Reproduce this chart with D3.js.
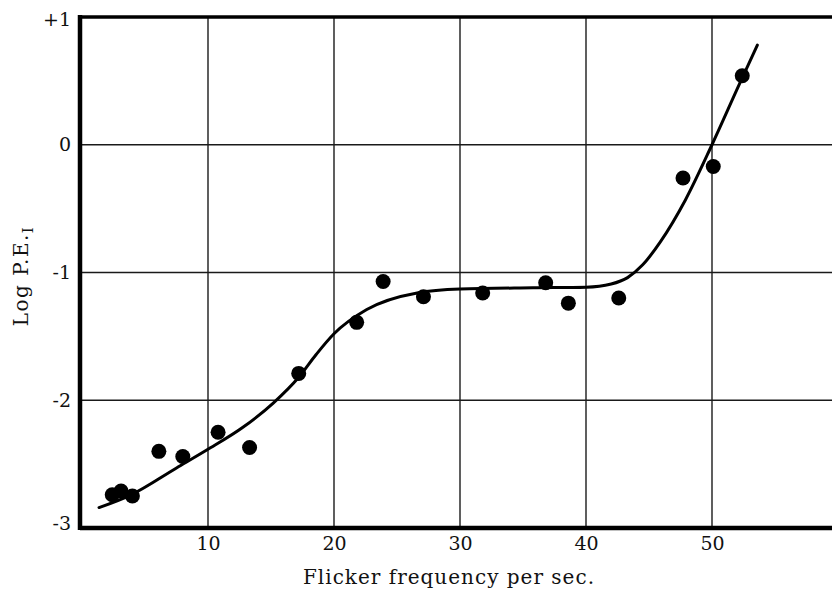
<!DOCTYPE html>
<html>
<head>
<meta charset="utf-8">
<script src="https://cdn.jsdelivr.net/npm/d3@7"></script>
<style>
  html, body { margin: 0; padding: 0; background: #fff; }
  svg { display: block; }
  text { font-family: "DejaVu Serif", "Liberation Serif", serif; fill: #111; }
</style>
</head>
<body>
<svg id="chart" width="832" height="596"></svg>
<script>
// ---- data ----
const xTicks = [10, 20, 30, 40, 50];
const yTicks = [1, 0, -1, -2, -3];
const yTickLabels = ["+1", "0", "-1", "-2", "-3"];

// measured points
const freq  = [2.4, 3.1, 4.0, 6.1, 8.0, 10.8, 13.3, 17.2, 21.8, 23.9, 27.1, 31.8, 36.8, 38.6, 42.6, 47.7, 50.1, 52.4];
const logPE = [-2.74, -2.71, -2.75, -2.40, -2.44, -2.25, -2.37, -1.79, -1.39, -1.07, -1.19, -1.16, -1.08, -1.24, -1.20, -0.26, -0.17, 0.54];

// fitted curve
const curveFreq  = [1.35, 3.9, 7.5, 9.9, 12.8, 15.2, 17.2, 18.6, 20.0, 22.6, 26.6, 30.0, 35.8, 40.0, 42.0, 43.3, 44.5, 45.9, 47.9, 50.0, 52.2, 53.6];
const curveLogPE = [-2.84, -2.74, -2.53, -2.39, -2.21, -2.02, -1.82, -1.64, -1.48, -1.29, -1.16, -1.13, -1.12, -1.115, -1.09, -1.04, -0.94, -0.76, -0.43, 0.0, 0.48, 0.78];

const xLabel = "Flicker frequency per sec.";

// ---- drawing ----
const svg = d3.select("#chart");
const x = d3.scaleLinear().domain([0, 60]).range([82, 838]);
const y = d3.scaleLinear().domain([-3, 1]).range([528, 17]);
const xLeft = 80, xRight = 832;

// grid
const grid = svg.append("g").attr("stroke", "#1a1a1a").attr("stroke-width", 1.4);
grid.selectAll("line.v").data(xTicks).join("line")
  .attr("class", "v")
  .attr("x1", d => x(d)).attr("x2", d => x(d))
  .attr("y1", y(1)).attr("y2", y(-3));
grid.selectAll("line.h").data(yTicks.filter(d => d > -3 && d < 1)).join("line")
  .attr("class", "h")
  .attr("x1", xLeft).attr("x2", xRight)
  .attr("y1", d => y(d)).attr("y2", d => y(d));

// frame
svg.append("line").attr("x1", xLeft).attr("x2", xRight).attr("y1", y(1)).attr("y2", y(1))
  .attr("stroke", "#000").attr("stroke-width", 3.5);
svg.append("line").attr("x1", xLeft).attr("x2", xRight).attr("y1", y(-3)).attr("y2", y(-3))
  .attr("stroke", "#000").attr("stroke-width", 4.5);
svg.append("line").attr("x1", xLeft).attr("x2", xLeft).attr("y1", y(1) - 2).attr("y2", y(-3) + 2)
  .attr("stroke", "#000").attr("stroke-width", 4.5);

// axes (labels only)
const yAxis = d3.axisLeft(y).tickValues(yTicks).tickSize(0).tickPadding(9)
  .tickFormat((d, i) => yTickLabels[i]);
const gy = svg.append("g").attr("transform", `translate(${xLeft},0)`).call(yAxis);
gy.select(".domain").remove();
gy.selectAll("text").style("font-size", "19px").style("font-family", "'DejaVu Serif', serif").attr("fill", "#111");
gy.selectAll(".tick").filter(d => d === 1).select("text").attr("dy", "0.45em");
gy.selectAll(".tick").filter(d => d === -3).select("text").attr("dy", "0.1em");

const xAxis = d3.axisBottom(x).tickValues(xTicks).tickSize(0).tickPadding(9).tickFormat(d3.format("d"));
const gx = svg.append("g").attr("transform", `translate(0,${y(-3)})`).call(xAxis);
gx.select(".domain").remove();
gx.selectAll("text").style("font-size", "19px").style("font-family", "'DejaVu Serif', serif").attr("fill", "#111");

// curve
const curvePts = curveFreq.map((f, i) => [f, curveLogPE[i]]);
svg.append("path")
  .attr("d", d3.line().x(d => x(d[0])).y(d => y(d[1])).curve(d3.curveMonotoneX)(curvePts))
  .attr("fill", "none").attr("stroke", "#000").attr("stroke-width", 3).attr("stroke-linecap", "round");

// points
svg.append("g").selectAll("circle").data(freq.map((f, i) => [f, logPE[i]])).join("circle")
  .attr("cx", d => x(d[0])).attr("cy", d => y(d[1])).attr("r", 7.5).attr("fill", "#000");

// axis titles
svg.append("text").attr("x", 449).attr("y", 584).attr("text-anchor", "middle")
  .style("font-size", "20px").style("letter-spacing", "1px").text(xLabel);

const yt = svg.append("text").attr("transform", "translate(28,276) rotate(-90)")
  .attr("text-anchor", "middle").style("font-size", "20px").style("letter-spacing", "1.5px");
yt.append("tspan").text("Log P.E.");
yt.append("tspan").attr("dy", "0.3em").style("font-size", "15px").text("I");
</script>
</body>
</html>
